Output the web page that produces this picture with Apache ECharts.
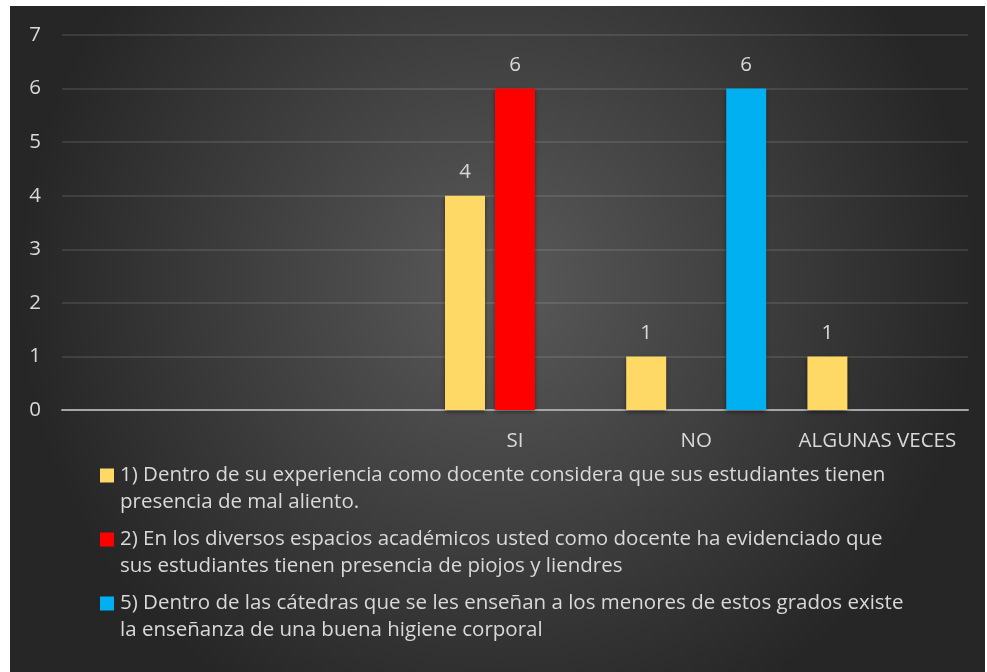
<!DOCTYPE html>
<html>
<head>
<meta charset="utf-8">
<script src="https://cdn.jsdelivr.net/npm/echarts@6/dist/echarts.min.js"></script>
<style>
  html, body { margin: 0; padding: 0; background: #fff; }
  #chart { position: absolute; left: 10px; top: 6px; width: 975px; height: 666px; }
</style>
</head>
<body>
<div id="chart"></div>
<script>
  // categorias (las dos primeras vacias, como en el original)
  var categories = ['', '', 'SI', 'NO', 'ALGUNAS VECES'];
  var yTicks = [0, 1, 2, 3, 4, 5, 6, 7];

  // leyenda en dos lineas por serie
  var legendLines = [
    ['1) Dentro de su experiencia como docente considera que sus estudiantes tienen', 'presencia de mal aliento.'],
    ['2) En los diversos espacios académicos usted como docente ha evidenciado que', 'sus estudiantes tienen presencia de piojos y liendres'],
    ['5) Dentro de las cátedras que se les enseñan a los menores de estos grados existe', 'la enseñanza de una buena higiene corporal']
  ];
  var seriesNames = legendLines.map(function (l) { return l[0] + ' ' + l[1]; });

  var pregunta1 = [null, null, 4, 1, 1];
  var pregunta2 = [null, null, 6, null, null];
  var pregunta5 = [null, null, null, 6, null];

  var colors = ['#ffd966', '#ff0000', '#00b0f0'];
  var txt = '#d9d9d9';
  var font = '"Open Sans", sans-serif';
  var fs = 20.5;

  var chart = echarts.init(document.getElementById('chart'));

  function serie(i, data) {
    return {
      name: seriesNames[i],
      type: 'bar',
      data: data,
      barWidth: 40,
      barGap: '25%',
      itemStyle: {
        color: colors[i],
        shadowColor: 'rgba(0,0,0,0.45)',
        shadowBlur: 4,
        shadowOffsetY: 2
      },
      label: {
        show: true,
        position: 'top',
        distance: 13,
        color: txt,
        fontSize: fs,
        fontFamily: font
      }
    };
  }

  var rich = {
    t: { color: txt, fontSize: fs, fontFamily: font, lineHeight: 27, padding: [0, 0, 0, 6] },
    p: { width: 14, height: 14 }
  };
  colors.forEach(function (c, i) {
    rich['s' + i] = { width: 14, height: 14, backgroundColor: c };
  });

  chart.setOption({
    backgroundColor: new echarts.graphic.RadialGradient(0.5, 0.42, 0.72, [
      { offset: 0, color: '#5a5a5a' },
      { offset: 1, color: '#262626' }
    ]),
    textStyle: { fontFamily: font },
    grid: { left: 52, right: 17, top: 29, bottom: 262 },
    legend: {
      orient: 'vertical',
      left: 80,
      top: 454,
      icon: 'none',
      itemWidth: 0,
      itemGap: 16,
      selectedMode: false,
      data: seriesNames,
      formatter: function (name) {
        var i = seriesNames.indexOf(name);
        return '{s' + i + '|}{t|' + legendLines[i][0] + '}\n{p|}{t|' + legendLines[i][1] + '}';
      },
      textStyle: { color: txt, fontSize: fs, rich: rich }
    },
    xAxis: {
      type: 'category',
      data: categories,
      axisTick: { show: false },
      axisLine: { lineStyle: { color: '#a6a6a6', width: 2 } },
      axisLabel: { color: txt, fontSize: fs, margin: 21, interval: 0, fontFamily: font }
    },
    yAxis: {
      type: 'value',
      min: yTicks[0],
      max: yTicks[yTicks.length - 1],
      interval: 1,
      axisLine: { show: false },
      axisTick: { show: false },
      splitLine: { lineStyle: { color: 'rgba(255,255,255,0.1)', width: 2 } },
      axisLabel: { color: txt, fontSize: fs, margin: 21, fontFamily: font }
    },
    series: [serie(0, pregunta1), serie(1, pregunta2), serie(2, pregunta5)]
  });
</script>
</body>
</html>
